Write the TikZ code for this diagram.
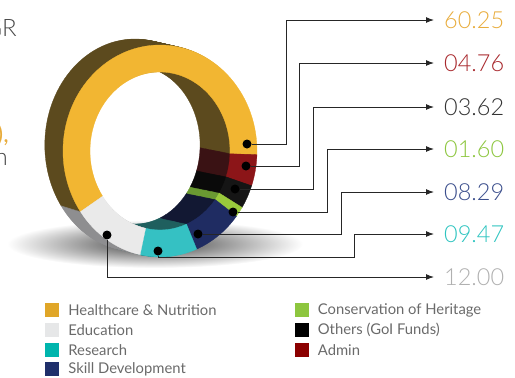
\documentclass[tikz,border=0pt]{standalone}
\usepackage{fontspec}
\setmainfont{Lato}
\newfontfamily\lightfont{Lato Light}
\usetikzlibrary{arrows.meta,positioning}

% face colours
\definecolor{hc}{HTML}{F2B632}
\definecolor{ed}{HTML}{EAEAEA}
\definecolor{re}{HTML}{35C1C3}
\definecolor{sk}{HTML}{1F2C62}
\definecolor{co}{HTML}{9ACA3C}
\definecolor{ot}{HTML}{151515}
\definecolor{ad}{HTML}{8C1518}
% side wall colours
\definecolor{whc}{HTML}{5C4A1E}
\definecolor{wed}{HTML}{8E8E90}
\definecolor{wre}{HTML}{1F5F5E}
\definecolor{wsk}{HTML}{121833}
\definecolor{wco}{HTML}{6A9A32}
\definecolor{wot}{HTML}{0A0A0A}
\definecolor{wad}{HTML}{3A1214}
% legend and label colours
\definecolor{khc}{HTML}{E0A628}
\definecolor{ked}{HTML}{E6E7E8}
\definecolor{kre}{HTML}{00B5AD}
\definecolor{ksk}{HTML}{1F2F6B}
\definecolor{kco}{HTML}{8DC63F}
\definecolor{kad}{HTML}{8B0000}
\definecolor{vhc}{HTML}{E8AC3C}
\definecolor{vad}{HTML}{A8282D}
\definecolor{vot}{HTML}{333333}
\definecolor{vco}{HTML}{8DC63F}
\definecolor{vsk}{HTML}{3B4E8C}
\definecolor{vre}{HTML}{2EC4C0}
\definecolor{ved}{HTML}{B0B0B0}
\definecolor{txt}{HTML}{6A6A6A}

\newcommand{\ringpart}[3]{%
  \filldraw[fill=#1, draw=#1, line width=0.3pt]
    (#2:97 and 106) arc[start angle=#2, end angle=#3, x radius=97, y radius=106]
    -- (#3:70 and 79) arc[start angle=#3, end angle=#2, x radius=70, y radius=79] -- cycle;}

\begin{document}
\begin{tikzpicture}[
    x=1pt, y=1pt,
    dot/.style={circle, fill=black, minimum size=9pt, inner sep=0pt},
    value/.style={anchor=west, inner xsep=10pt, inner ysep=0pt, font=\lightfont\fontsize{23.5}{24}\selectfont},
    key/.style={rectangle, minimum size=14pt, inner sep=0pt},
    keytext/.style={right=9pt of #1, inner sep=0pt, text=txt, font=\fontsize{14.8}{15}\selectfont},
    conn/.style={draw=black!85, line width=1pt, -{Latex[length=8pt,width=6pt]}}
]
\useasboundingbox (0,0) rectangle (515,-378);

% Cut text on the left
\node[anchor=base east, inner sep=0pt, text=black!72, font=\lightfont\fontsize{24}{24}\selectfont] (fragA) at (17,-36) {GR};
\node[anchor=base east, inner sep=0pt, text=vhc, font=\fontsize{24}{24}\selectfont] (fragB) at (9,-142) {0),};
\node[anchor=base east, inner sep=0pt, text=black!72, font=\lightfont\fontsize{24}{24}\selectfont] (fragC) at (8,-165) {n};

% Shadow
\shade[inner color=black!75, outer color=white] (155,-244) ellipse [x radius=148, y radius=24];

% Ring side walls
\foreach \k in {25,...,1} {
  \pgfmathsetmacro{\t}{\k/25}
  \begin{scope}[shift={(160-25*\t,-151+6*\t)}, xscale={1-0.07*\t}]
    \foreach \c/\a/\b in {hc/-2/214.94, ad/-19.14/-2, ot/-32.17/-19.14, co/-37.93/-32.17,
                          sk/-67.77/-37.93, re/-101.86/-67.77, ed/-145.06/-101.86}
      \ringpart{w\c}{\a}{\b};
  \end{scope}
}

% Ring front face
\begin{scope}[shift={(160,-151)}]
  \foreach \c/\a/\b in {hc/-2/214.94, ad/-19.14/-2, ot/-32.17/-19.14, co/-37.93/-32.17,
                        sk/-67.77/-37.93, re/-101.86/-67.77, ed/-145.06/-101.86}
    \ringpart{\c}{\a}{\b};
\end{scope}

% Dots
\node[dot] (dHC) at (247,-144) {};
\node[dot] (dAD) at (246,-166) {};
\node[dot] (dOT) at (235,-189) {};
\node[dot] (dCO) at (233,-212) {};
\node[dot] (dSK) at (198,-234) {};
\node[dot] (dRE) at (158,-251) {};
\node[dot] (dED) at (107,-235) {};

% Values
\node[value, text=vhc] (lHC) at (434,-20) {60.25};
\node[value, text=vad] (lAD) at (434,-63) {04.76};
\node[value, text=vot] (lOT) at (434,-107) {03.62};
\node[value, text=vco] (lCO) at (434,-149) {01.60};
\node[value, text=vsk] (lSK) at (434,-192) {08.29};
\node[value, text=vre] (lRE) at (434,-234) {09.47};
\node[value, text=ved] (lED) at (434,-277) {12.00};

% Connections
\draw[conn] (dHC) -- ++(39,0) |- (lHC.west);
\draw[conn] (dAD) -- ++(53,0) |- (lAD.west);
\draw[conn] (dOT) -- ++(78,0) |- (lOT.west);
\draw[conn] (dCO) -- ++(94,0) |- (lCO.west);
\draw[conn] (dSK) -- ++(143,0) |- (lSK.west);
\draw[conn] (dRE) -- ++(0,-6) -- ++(196,0) |- (lRE.west);
\draw[conn] (dED) |- (lED.west);

% Legend
\node[key, fill=khc] (kHC) at (52,-310) {};
\node[keytext=kHC] (tHC) {Healthcare \& Nutrition};
\node[key, fill=ked] (kED) at (52,-330) {};
\node[keytext=kED] (tED) {Education};
\node[key, fill=kre] (kRE) at (52,-350) {};
\node[keytext=kRE] (tRE) {Research};
\node[key, fill=ksk] (kSK) at (52,-369) {};
\node[keytext=kSK] (tSK) {Skill Development};
\node[key, fill=kco] (kCO) at (301.5,-310) {};
\node[keytext=kCO] (tCO) {Conservation of Heritage};
\node[key, fill=black] (kOT) at (301.5,-330) {};
\node[keytext=kOT] (tOT) {Others (GoI Funds)};
\node[key, fill=kad] (kAD) at (301.5,-350) {};
\node[keytext=kAD] (tAD) {Admin};

\end{tikzpicture}
\end{document}
